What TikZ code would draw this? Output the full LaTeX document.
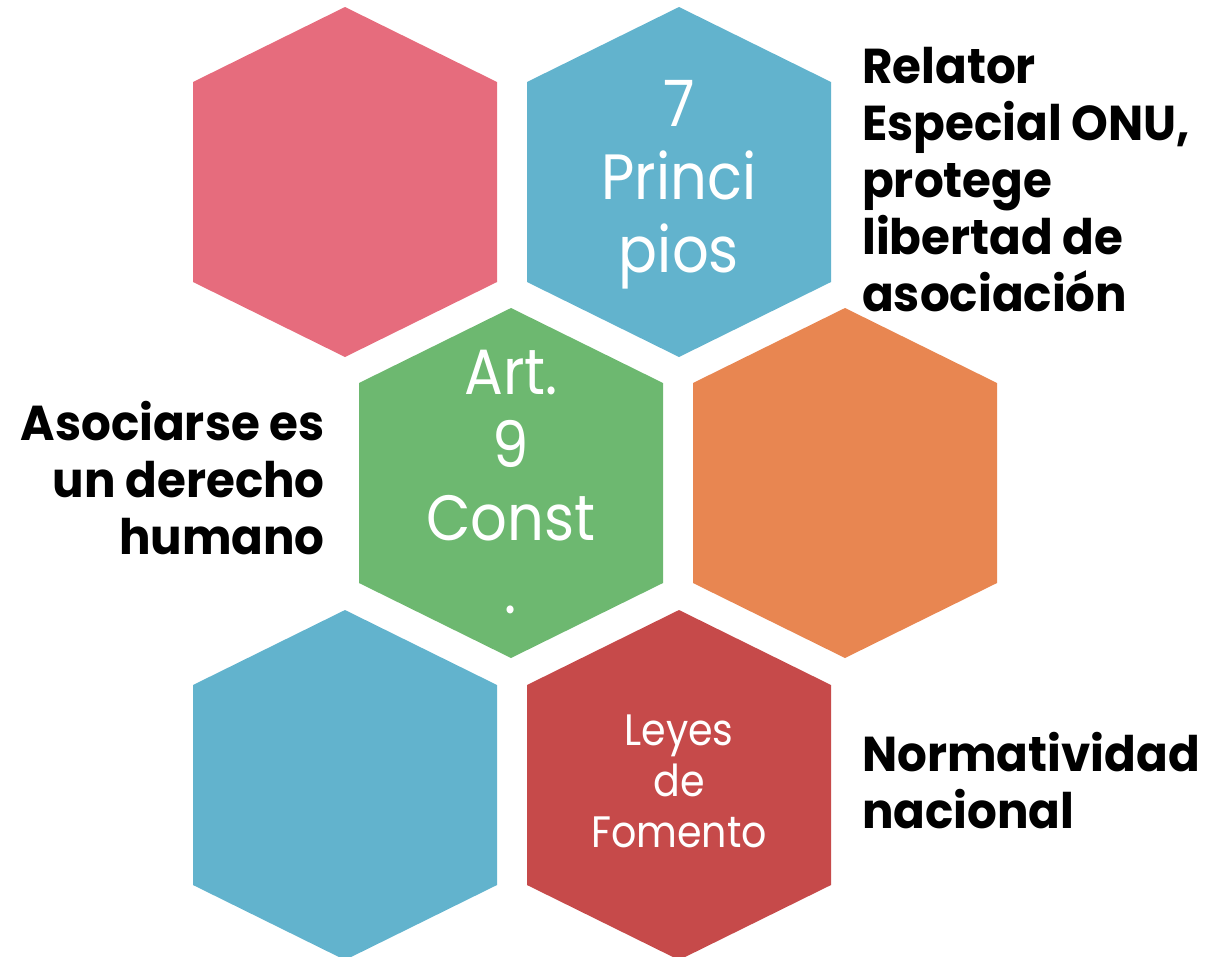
\documentclass[tikz,border=0pt]{standalone}
\usepackage{fontspec}
\setmainfont{Poppins}[FakeStretch=0.9]
\newfontfamily\labelfont{Poppins}[FakeStretch=0.955]
\definecolor{hpink}{HTML}{E66C7D}
\definecolor{hblue}{HTML}{62B3CD}
\definecolor{hgreen}{HTML}{6DB870}
\definecolor{horange}{HTML}{E88651}
\definecolor{hred}{HTML}{C64A4A}
\begin{document}
\begin{tikzpicture}[x=1pt,y=-1pt,
  hexa/.pic={\fill[pic actions] (0,-175) -- (-152,-100) -- (-152,100) -- (0,175) -- (152,100) -- (152,-100) -- cycle;},
  inbig/.style={text=white, align=center, inner sep=0pt, font=\fontsize{64}{73}\selectfont},
  insmall/.style={text=white, align=center, inner sep=0pt, font=\fontsize{44}{51}\selectfont},
  label/.style={text=black, inner sep=0pt, font=\labelfont\bfseries\fontsize{49}{57}\selectfont}]
\useasboundingbox (0,0) rectangle (1212,956);
\pic[fill=hpink]   at (345,182) {hexa};
\pic[fill=hblue]   at (679,182) {hexa};
\pic[fill=hgreen]  at (511,483) {hexa};
\pic[fill=horange] at (845,483) {hexa};
\pic[fill=hblue]   at (345,785) {hexa};
\pic[fill=hred]    at (679,785) {hexa};
\node[inbig]   (t1) at (679,185) {7\\Princi\\pios};
\node[inbig]   (t2) at (511,482) {Art.\\9\\Const\\.};
\node[insmall] (t3) at (679,781) {Leyes\\de\\Fomento};
\node[label, align=left, anchor=base west]  (l1) at (862,311) {Relator\\Especial ONU,\\protege\\libertad de\\asociación};
\node[label, align=right, anchor=base east] (l2) at (325,554) {Asociarse es\\un derecho\\humano};
\node[label, align=left, anchor=base west]  (l3) at (862,828) {Normatividad\\nacional};
\end{tikzpicture}
\end{document}
